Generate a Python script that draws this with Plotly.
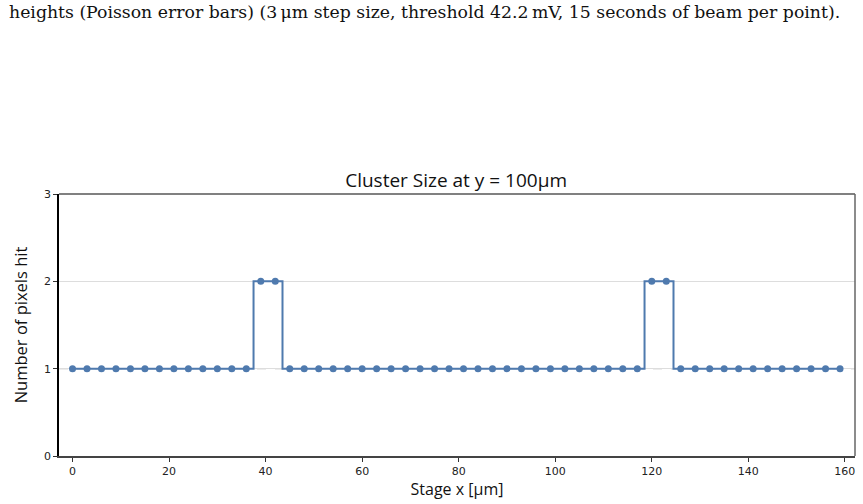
import plotly.graph_objects as go

# Data
stage_x = [0, 3, 6, 9, 12, 15, 18, 21, 24, 27, 30, 33, 36, 39, 42, 45, 48, 51, 54, 57,
           60, 63, 66, 69, 72, 75, 78, 81, 84, 87, 90, 93, 96, 99, 102, 105, 108, 111,
           114, 117, 120, 123, 126, 129, 132, 135, 138, 141, 144, 147, 150, 153, 156, 159]
pixels_hit = [1, 1, 1, 1, 1, 1, 1, 1, 1, 1, 1, 1, 1, 2, 2, 1, 1, 1, 1, 1,
              1, 1, 1, 1, 1, 1, 1, 1, 1, 1, 1, 1, 1, 1, 1, 1, 1, 1,
              1, 1, 2, 2, 1, 1, 1, 1, 1, 1, 1, 1, 1, 1, 1, 1]
reference_level = 1
x_ticks = [0, 20, 40, 60, 80, 100, 120, 140, 160]
y_ticks = [0, 1, 2, 3]

caption = ("heights (Poisson error bars) (3\u2009\u03bcm step size, threshold 42.2\u2009mV, "
           "15 seconds of beam per point).")

BLUE = "#4f7aae"

fig = go.Figure()
fig.add_trace(go.Scatter(
    x=stage_x, y=pixels_hit, mode="lines+markers",
    line=dict(shape="hvh", color=BLUE, width=2),
    marker=dict(size=7, color=BLUE),
    showlegend=False, cliponaxis=False,
))

# dashed reference line
fig.add_shape(type="line", xref="paper", x0=0, x1=1, yref="y",
              y0=reference_level, y1=reference_level,
              line=dict(color="#888888", width=1, dash="dash"), layer="below")

# spines top and right
fig.add_shape(type="line", xref="paper", yref="paper", x0=0, x1=1, y0=1, y1=1,
              line=dict(color="#808080", width=2.2))
fig.add_shape(type="line", xref="paper", yref="paper", x0=1, x1=1, y0=0, y1=1,
              line=dict(color="#666666", width=1.5))

fig.add_annotation(text=caption, xref="paper", yref="paper", x=-0.065, y=1.694,
                   xanchor="left", yanchor="middle", showarrow=False,
                   font=dict(family="DejaVu Serif, serif", size=17.3, color="#111111"))

fig.update_layout(
    width=863, height=504,
    margin=dict(l=59, r=8, t=194, b=48),
    paper_bgcolor="white", plot_bgcolor="white",
    title=dict(text="Cluster Size at y = 100\u03bcm", x=0.5285, xanchor="center",
               y=1 - 180 / 504, yanchor="middle", yref="container",
               font=dict(family="Open Sans, Noto Sans, sans-serif", size=19, color="#111111")),
    xaxis=dict(
        range=[-2.8, 162.1], tickvals=x_ticks, ticks="outside", ticklen=4,
        tickcolor="#333333", showgrid=False, zeroline=False,
        showline=True, linecolor="#444444", linewidth=1.5,
        tickfont=dict(family="DejaVu Sans", size=11, color="#222222"),
        title=dict(text="Stage x [\u03bcm]", standoff=4,
                   font=dict(family="Open Sans, Noto Sans, sans-serif", size=16, color="#111111")),
    ),
    yaxis=dict(
        range=[0, 3], tickvals=y_ticks, ticks="outside", ticklen=4,
        tickcolor="#333333", showgrid=True, gridcolor="#dddddd", gridwidth=1,
        zeroline=False, showline=True, linecolor="#000000", linewidth=1.5,
        tickfont=dict(family="DejaVu Sans", size=11, color="#222222"),
        title=dict(text="Number of pixels hit", standoff=12,
                   font=dict(family="Open Sans, Noto Sans, sans-serif", size=16.5, color="#111111")),
    ),
)

fig.write_html("out.html")
